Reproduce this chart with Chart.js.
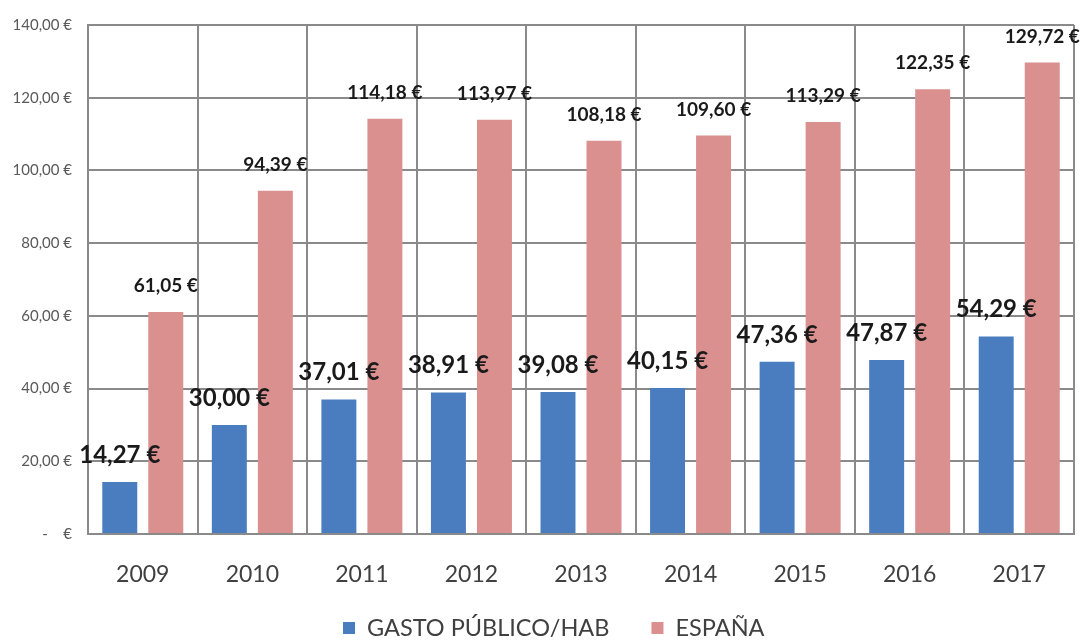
<!DOCTYPE html>
<html>
<head>
<meta charset="utf-8">
<script src="https://cdn.jsdelivr.net/npm/chart.js@4"></script>
<style>
  html, body { margin: 0; padding: 0; background: #fff; }
  #wrap { width: 1089px; height: 642px; }
</style>
</head>
<body>
<div id="wrap"><canvas id="myChart"></canvas></div>
<script>
// Yearly spend per inhabitant vs. Spain average
const years = ['2009', '2010', '2011', '2012', '2013', '2014', '2015', '2016', '2017'];
const gastoPublico = [14.27, 30.00, 37.01, 38.91, 39.08, 40.15, 47.36, 47.87, 54.29];
const espana = [61.05, 94.39, 114.18, 113.97, 108.18, 109.60, 113.29, 122.35, 129.72];
const seriesNames = ['GASTO PÚBLICO/HAB', 'ESPAÑA'];

const gridColor = '#8a8a8a';

function euro(v) {
    return v.toFixed(2).replace('.', ',') + ' €';
}

function yTick(v) {
    if (v === 0) return '-    €';
    return v.toFixed(2).replace('.', ',') + ' €';
}

// value labels above every bar
const barLabels = {
    id: 'barLabels',
    afterDatasetsDraw(chart) {
        const ctx = chart.ctx;
        const styles = [
            { size: 24, lift: 27 },
            { size: 19, lift: 26 }
        ];
        ctx.save();
        ctx.textAlign = 'center';
        ctx.textBaseline = 'middle';
        ctx.fillStyle = '#1a1a1a';
        chart.data.datasets.forEach((ds, di) => {
            const meta = chart.getDatasetMeta(di);
            ctx.font = 'bold ' + styles[di].size + 'px Lato';
            meta.data.forEach((bar, i) => {
                ctx.fillText(euro(ds.data[i]), bar.x, bar.y - styles[di].lift);
            });
        });
        ctx.restore();
    }
};

// legend row under the axis: square swatch + series name
const bottomLegend = {
    id: 'bottomLegend',
    afterDraw(chart) {
        const ctx = chart.ctx;
        const box = 12, gapText = 12, gapItem = 42;
        const y = chart.height - 14;
        ctx.save();
        ctx.font = '23.5px Lato';
        ctx.textBaseline = 'middle';
        let x = chart.chartArea.left + 255;
        chart.data.datasets.forEach((ds) => {
            ctx.fillStyle = ds.backgroundColor;
            ctx.fillRect(x, y - box / 2, box, box);
            x += box + gapText;
            ctx.fillStyle = '#404040';
            ctx.fillText(ds.label, x, y);
            x += ctx.measureText(ds.label).width + gapItem;
        });
        ctx.restore();
    }
};

const ctx = document.getElementById('myChart').getContext('2d');
const myChart = new Chart(ctx, {
    type: 'bar',
    data: {
        labels: years,
        datasets: [
            {
                label: seriesNames[0],
                data: gastoPublico,
                backgroundColor: '#4A7DC0',
                barPercentage: 0.76,
                categoryPercentage: 0.84
            },
            {
                label: seriesNames[1],
                data: espana,
                backgroundColor: '#D9908F',
                barPercentage: 0.76,
                categoryPercentage: 0.84
            }
        ]
    },
    options: {
        responsive: true,
        maintainAspectRatio: false,
        animation: false,
        layout: { padding: { left: 0, right: 15, top: 20, bottom: 0 } },
        plugins: {
            tooltip: { enabled: false },
            legend: { display: false }
        },
        scales: {
            x: {
                grid: { color: gridColor, lineWidth: 2, drawTicks: false, offset: true },
                border: { color: gridColor, width: 2 },
                ticks: {
                    color: '#404040',
                    padding: 27,
                    font: { family: 'Lato', size: 23 }
                },
                afterFit(scale) { scale.height = 108; }
            },
            y: {
                min: 0,
                max: 140,
                grid: { color: gridColor, lineWidth: 2, drawTicks: false },
                border: { color: gridColor, width: 2 },
                ticks: {
                    stepSize: 20,
                    color: '#595959',
                    padding: 16,
                    font: { family: 'Lato', size: 15 },
                    callback: (v) => yTick(v)
                },
                afterFit(scale) { scale.width = 88; }
            }
        }
    },
    plugins: [barLabels, bottomLegend]
});
</script>
</body>
</html>
